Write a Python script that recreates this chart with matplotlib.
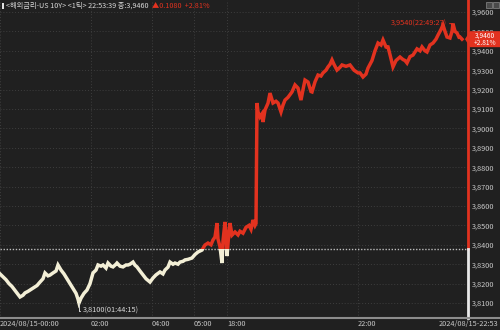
import matplotlib
matplotlib.use('Agg')
import matplotlib.pyplot as plt
from matplotlib.patches import Rectangle, Polygon
from matplotlib.lines import Line2D

plt.rcParams['font.family'] = ['Noto Sans CJK KR', 'DejaVu Sans']

# --- data (tick index position, yield) ---
tick_idx = [0, 3, 6, 9, 12, 15, 18, 20, 23, 25, 28, 31, 34, 37, 40, 43, 45, 48, 50, 53,
            56, 58, 61, 64, 67, 70, 73, 76, 78, 79, 81, 84, 87, 90, 93, 96, 98, 101, 103, 106,
            108, 111, 113, 116, 117, 120, 123, 126, 128, 130, 133, 135, 137, 140, 143, 146, 150, 153, 156, 160,
            163, 165, 168, 170, 173, 175, 178, 180, 183, 185, 188, 192, 195, 198, 202, 205, 208, 211, 213, 215,
            217, 218, 220, 222, 223, 225, 226, 227, 229, 230, 232, 235, 238, 240, 243, 246, 249, 251, 253, 255,
            256, 257, 258, 260, 262, 263, 265, 268, 270, 273, 276, 278, 281, 283, 285, 288, 292, 295, 298, 301,
            303, 305, 308, 311, 312, 315, 318, 321, 323, 326, 328, 330, 332, 334, 337, 340, 342, 346, 350, 354,
            358, 360, 363, 366, 368, 372, 375, 378, 381, 383, 386, 388, 390, 392, 393, 396, 400, 403, 405, 407,
            410, 413, 417, 420, 422, 425, 427, 430, 433, 436, 438, 441, 443, 445, 447, 450, 452, 453, 455, 457,
            459, 460, 462]
yields = [3.8250, 3.8235, 3.8220, 3.8200, 3.8185, 3.8165, 3.8145, 3.8131, 3.8140, 3.8152,
          3.8160, 3.8170, 3.8180, 3.8190, 3.8208, 3.8225, 3.8255, 3.8240, 3.8244, 3.8255,
          3.8265, 3.8296, 3.8270, 3.8250, 3.8225, 3.8200, 3.8175, 3.8150, 3.8120, 3.8100,
          3.8125, 3.8150, 3.8167, 3.8200, 3.8255, 3.8270, 3.8296, 3.8290, 3.8296, 3.8280,
          3.8306, 3.8290, 3.8286, 3.8300, 3.8306, 3.8290, 3.8286, 3.8296, 3.8296, 3.8300,
          3.8311, 3.8295, 3.8286, 3.8265, 3.8245, 3.8225, 3.8208, 3.8229, 3.8245, 3.8260,
          3.8250, 3.8270, 3.8285, 3.8311, 3.8300, 3.8306, 3.8300, 3.8311, 3.8315, 3.8322,
          3.8325, 3.8332, 3.8350, 3.8363, 3.8373, 3.8399, 3.8409, 3.8400, 3.8425, 3.8440,
          3.8512, 3.8430, 3.8390, 3.8306, 3.8420, 3.8518, 3.8440, 3.8342, 3.8470, 3.8512,
          3.8450, 3.8466, 3.8451, 3.8470, 3.8460, 3.8490, 3.8500, 3.8480, 3.8528, 3.8500,
          3.8510, 3.9131, 3.9085, 3.9059, 3.9075, 3.9033, 3.9095, 3.9130, 3.9182, 3.9131,
          3.9140, 3.9131, 3.9085, 3.9120, 3.9146, 3.9160, 3.9188, 3.9224, 3.9208, 3.9146,
          3.9200, 3.9249, 3.9239, 3.9190, 3.9188, 3.9240, 3.9275, 3.9270, 3.9286, 3.9300,
          3.9317, 3.9330, 3.9353, 3.9330, 3.9301, 3.9315, 3.9327, 3.9320, 3.9327, 3.9300,
          3.9286, 3.9286, 3.9265, 3.9280, 3.9311, 3.9350, 3.9400, 3.9440, 3.9430, 3.9456,
          3.9420, 3.9420, 3.9380, 3.9337, 3.9317, 3.9350, 3.9368, 3.9355, 3.9350, 3.9337,
          3.9370, 3.9378, 3.9410, 3.9400, 3.9420, 3.9400, 3.9394, 3.9430, 3.9440, 3.9460,
          3.9481, 3.9510, 3.9533, 3.9500, 3.9471, 3.9466, 3.9500, 3.9540, 3.9500, 3.9492,
          3.9470, 3.9471, 3.9460]

prev_close = 3.838
y_ticks = [3.81, 3.82, 3.83, 3.84, 3.85, 3.86, 3.87, 3.88, 3.89, 3.90,
           3.91, 3.92, 3.93, 3.94, 3.95, 3.96]
x_tick_pos = [0, 91, 152, 194, 227, 358]
x_tick_labels = ['2024/08/15-00:00', '02:00', '04:00', '05:00', '18:00', '22:00']
last_label = '2024/08/15-22:53'
min_idx, min_val, min_time = 79, 3.8100, '01:44:15'
max_idx, max_val, max_time = 453, 3.9540, '22:49:27'
last_val = 3.9460
change, change_pct = 0.1080, 2.81

# --- style ---
BG = '#202020'
RED = '#e2321f'
CREAM = '#f3efd6'
TXT = '#c8c8c8'
GRID = '#3e3e3e'

W, H = 500, 330
fig = plt.figure(figsize=(5, 3.3), dpi=100, facecolor=BG)
ax = fig.add_axes([0, 12 / H, 468 / W, 318 / H], facecolor=BG)

ylo, yhi = 3.80227, 3.96619
ax.set_xlim(0, 468)
ax.set_ylim(ylo, yhi)
for s in ax.spines.values():
    s.set_visible(False)

# grid / ticks
ax.set_yticks(y_ticks)
ax.set_yticklabels([f'{v:.4f}'.replace('.', ',') for v in y_ticks])
ax.yaxis.tick_right()
ax.set_xticks(x_tick_pos)
ax.set_xticklabels(x_tick_labels)
for lab in ax.get_xticklabels():
    lab.set_horizontalalignment('left')
ax.tick_params(axis='both', length=0, colors=TXT, labelsize=5.3)
ax.tick_params(axis='y', pad=3)
ax.tick_params(axis='x', pad=1.5)
ax.grid(True, color=GRID, linestyle=(0, (1, 2)), linewidth=0.7)

# previous close line
ax.axhline(prev_close, color='#bdbdbd', linestyle=(0, (1, 1.2)), linewidth=1.0, zorder=2)

# price line: red above prev close, cream below
up, = ax.plot(tick_idx, yields, color=RED, linewidth=2.5, zorder=3, solid_joinstyle='miter')
up.set_clip_path(Rectangle((0, prev_close), 468, yhi - prev_close, transform=ax.transData))
dn, = ax.plot(tick_idx, yields, color=CREAM, linewidth=2.5, zorder=3, solid_joinstyle='miter')
dn.set_clip_path(Rectangle((0, ylo), 468, prev_close - ylo, transform=ax.transData))

# right axis line
ax.plot([468, 468], [prev_close, yhi], color=RED, linewidth=2, clip_on=False, zorder=4)
ax.plot([468, 468], [ylo, prev_close], color='#e8e8e8', linewidth=2, clip_on=False, zorder=4)

# min / max annotations
ax.annotate(f'{min_val:.4f}({min_time})'.replace('.', ','), xy=(min_idx, min_val),
            xytext=(3, -5.5), textcoords='offset points', ha='left', va='center',
            fontsize=5.3, color='#d8d8d8',
            arrowprops=dict(arrowstyle='-', color='#d8d8d8', lw=0.7,
                            connectionstyle='angle,angleA=0,angleB=90,rad=0',
                            shrinkA=0, shrinkB=0))
ax.annotate(f'{max_val:.4f}({max_time})'.replace('.', ','), xy=(max_idx, max_val),
            xytext=(-4.5, 0), textcoords='offset points', ha='right', va='center',
            fontsize=5.3, color=RED,
            arrowprops=dict(arrowstyle='-', color=RED, lw=0.7, shrinkA=0, shrinkB=0))

# bottom axis line
fig.add_artist(Line2D([0, 1], [12 / H, 12 / H], color='#8c8c8c', linewidth=1.5))
fig.text(498 / W, 1 - 324 / H, last_label, ha='right', va='center', fontsize=5.3, color=TXT)

# current price tag
yc = ax.transData.transform((0, last_val))[1] / H
tag = Polygon([(465 / W, yc), (470 / W, yc + 8 / H), (500 / W, yc + 8 / H),
               (500 / W, yc - 8 / H), (470 / W, yc - 8 / H)],
              closed=True, facecolor=RED, edgecolor='none', transform=fig.transFigure, zorder=10)
fig.add_artist(tag)
fig.text(485 / W, yc, f'{last_val:.4f}'.replace('.', ',') + f'\n+{change_pct:.2f}%',
         ha='center', va='center', fontsize=4.8, color='white', linespacing=1.0, zorder=11)

# header
fig.add_artist(Rectangle((2 / W, 1 - 9 / H), 2 / W, 6 / H, transform=fig.transFigure,
                         facecolor='#e0e0e0', edgecolor='none'))
t1 = fig.text(6 / W, 1 - 6 / H, f'<해외금리-US 10Y> <1틱> 22:53:39 종:{last_val:.4f}'.replace('.', ','),
              ha='left', va='center', fontsize=5.2, color='#d8d8d8')
fig.canvas.draw()
bb = t1.get_window_extent()
fig.text((bb.x1 + 3) / W, 1 - 6 / H, f'▲{change:.4f}  +{change_pct:.2f}%',
         ha='left', va='center', fontsize=5.2, color=RED)

# small window icons top right
for x0 in (486, 493):
    fig.add_artist(Rectangle((x0 / W, 1 - 8 / H), 5.5 / W, 6 / H, transform=fig.transFigure,
                             facecolor='#4a4a4a', edgecolor='#a0a0a0', linewidth=0.4))

fig.savefig('out.png', dpi=100, facecolor=BG)
